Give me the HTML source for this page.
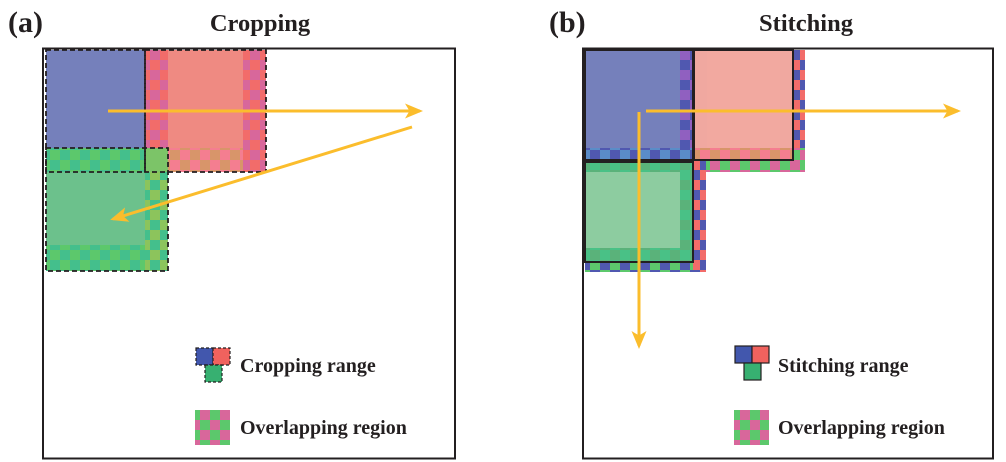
<!DOCTYPE html>
<html><head><meta charset="utf-8"><style>
html,body{margin:0;padding:0;background:#fff;width:1006px;height:462px;overflow:hidden}
svg text{font-family:"Liberation Serif",serif;font-weight:bold;fill:#231f20}
</style></head><body>
<svg width="1006" height="462" viewBox="0 0 1006 462" xmlns="http://www.w3.org/2000/svg">
<defs>
<pattern id="pr" width="20" height="20" patternUnits="userSpaceOnUse"><rect width="20" height="20" fill="#f26c6a"/><rect width="10" height="10" fill="#d8679b"/><rect x="10" y="10" width="10" height="10" fill="#d8679b"/></pattern>
<pattern id="po" width="20" height="20" patternUnits="userSpaceOnUse"><rect width="20" height="20" fill="#f47e90"/><rect width="10" height="10" fill="#d8956a"/><rect x="10" y="10" width="10" height="10" fill="#d8956a"/></pattern>
<pattern id="pg" width="20" height="20" patternUnits="userSpaceOnUse"><rect width="20" height="20" fill="#44bf8c"/><rect width="10" height="10" fill="#5cc86c"/><rect x="10" y="10" width="10" height="10" fill="#5cc86c"/></pattern>
<pattern id="pgy" width="20" height="20" patternUnits="userSpaceOnUse"><rect width="20" height="20" fill="#44bf8c"/><rect width="10" height="10" fill="#8cc45c"/><rect x="10" y="10" width="10" height="10" fill="#8cc45c"/></pattern>
<pattern id="pm" width="20" height="20" patternUnits="userSpaceOnUse"><rect width="20" height="20" fill="#d8679b"/><rect width="10" height="10" fill="#5cc86c"/><rect x="10" y="10" width="10" height="10" fill="#5cc86c"/></pattern>
<pattern id="pbr" width="20" height="20" patternUnits="userSpaceOnUse"><rect width="20" height="20" fill="#f26c6a"/><rect width="10" height="10" fill="#5058b0"/><rect x="10" y="10" width="10" height="10" fill="#5058b0"/></pattern>
<pattern id="pbg" width="20" height="20" patternUnits="userSpaceOnUse"><rect width="20" height="20" fill="#5cc86c"/><rect width="10" height="10" fill="#5058b0"/><rect x="10" y="10" width="10" height="10" fill="#5058b0"/></pattern>
<pattern id="pbp" width="20" height="20" patternUnits="userSpaceOnUse"><rect width="20" height="20" fill="#9060c0"/><rect width="10" height="10" fill="#5058b0"/><rect x="10" y="10" width="10" height="10" fill="#5058b0"/></pattern>
<pattern id="pbb" width="20" height="20" patternUnits="userSpaceOnUse"><rect width="20" height="20" fill="#5a8cc8"/><rect width="10" height="10" fill="#5058b0"/><rect x="10" y="10" width="10" height="10" fill="#5058b0"/></pattern>
<marker id="ah" markerWidth="6" markerHeight="6" refX="5" refY="3" orient="auto" markerUnits="strokeWidth"><path d="M0,0.5 L6,3 L0,5.5 L1.5,3z" fill="#fbbd2c"/></marker>
</defs>

<text x="8" y="32" font-size="30">(a)</text>
<text x="260" y="31" font-size="24.5" text-anchor="middle">Cropping</text>
<text x="549" y="32" font-size="30">(b)</text>
<text x="806" y="31" font-size="24.5" text-anchor="middle">Stitching</text>

<!-- Panel a -->
<rect x="43" y="48.5" width="412" height="410" fill="#fff" stroke="#231f20" stroke-width="2"/>
<rect x="46" y="50" width="99" height="98" fill="#7580bb"/>
<rect x="145" y="50" width="121" height="122" fill="url(#pr)"/>
<rect x="145" y="148" width="98" height="24" fill="url(#po)"/>
<rect x="168" y="50" width="75" height="98" fill="#ef8a82"/>
<rect x="46" y="148" width="122" height="123" fill="url(#pg)"/>
<rect x="145" y="172" width="23" height="99" fill="url(#pgy)"/>
<rect x="145" y="148" width="23" height="24" fill="#7cc468"/>
<rect x="46" y="172" width="99" height="73" fill="#6cc18c"/>
<g fill="none" stroke="#231f20" stroke-width="1.8" stroke-dasharray="5,3">
<rect x="46" y="50" width="99" height="122"/>
<rect x="145" y="50" width="121" height="122"/>
<rect x="46" y="148" width="122" height="123"/>
</g>
<line x1="108" y1="111" x2="420" y2="111" stroke="#fbbd2c" stroke-width="3" marker-end="url(#ah)"/>
<line x1="412" y1="127" x2="113" y2="219" stroke="#fbbd2c" stroke-width="3" marker-end="url(#ah)"/>

<g stroke="#231f20" stroke-width="1.2" stroke-dasharray="3,2">
<rect x="196" y="348" width="17" height="17" fill="#4257ad"/>
<rect x="213" y="348" width="17" height="17" fill="#f0625e"/>
<rect x="205" y="365" width="17" height="17" fill="#37b071"/>
</g>
<text x="240" y="372" font-size="20">Cropping range</text>
<rect x="195" y="410" width="35" height="35" fill="url(#pm)"/>
<text x="240" y="434" font-size="20">Overlapping region</text>

<!-- Panel b -->
<rect x="583" y="48.5" width="410" height="410" fill="#fff" stroke="#231f20" stroke-width="2"/>
<rect x="693" y="50" width="112" height="122" fill="url(#pbr)"/>
<rect x="693" y="148" width="112" height="24" fill="url(#pm)"/>
<rect x="693" y="148" width="100" height="13" fill="url(#po)"/>
<rect x="585" y="160" width="121" height="112" fill="url(#pbg)"/>
<rect x="693" y="160" width="13" height="112" fill="url(#pbr)"/>
<rect x="680" y="50" width="13" height="112" fill="url(#pbp)"/>
<rect x="585" y="148" width="108" height="13" fill="url(#pbb)"/>
<rect x="585" y="50" width="95" height="98" fill="#7580bb"/>
<rect x="693" y="50" width="100" height="98" fill="#f0a8a0"/>
<rect x="707" y="50" width="73" height="98" fill="#f2a9a0"/>
<rect x="585" y="162" width="108" height="100" fill="url(#pg)" opacity="0.8"/>
<rect x="585" y="172" width="95" height="76" fill="#8dcca0"/>
<g fill="none" stroke="#231f20" stroke-width="2">
<rect x="585" y="50" width="108" height="110"/>
<rect x="694" y="50" width="99" height="110"/>
<rect x="585" y="162" width="108" height="100"/>
</g>
<line x1="646" y1="111" x2="958" y2="111" stroke="#fbbd2c" stroke-width="3" marker-end="url(#ah)"/>
<line x1="639" y1="112" x2="639" y2="346" stroke="#fbbd2c" stroke-width="3" marker-end="url(#ah)"/>

<g stroke="#231f20" stroke-width="1.2">
<rect x="735" y="346" width="17" height="17" fill="#4257ad"/>
<rect x="752" y="346" width="17" height="17" fill="#f0625e"/>
<rect x="744" y="363" width="17" height="17" fill="#37b071"/>
</g>
<text x="778" y="372" font-size="20">Stitching range</text>
<rect x="734" y="410" width="35" height="35" fill="url(#pm)"/>
<text x="778" y="434" font-size="20">Overlapping region</text>
</svg>
</body></html>
